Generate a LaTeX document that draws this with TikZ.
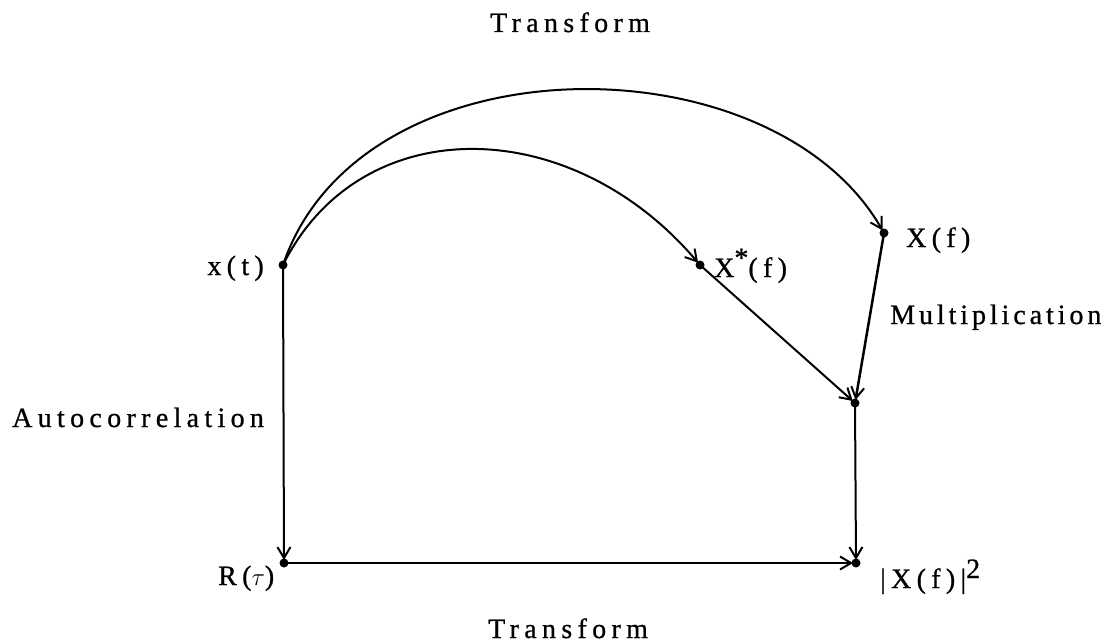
\documentclass[tikz,border=0pt]{standalone}
\usepackage{fontspec}
\setmainfont{Liberation Serif}[LetterSpace=19,FakeBold=0.8]
\newfontfamily\tightfont{Liberation Serif}[LetterSpace=14,FakeBold=0.8]
\usetikzlibrary{arrows.meta}
\begin{document}
\begin{tikzpicture}[x=1pt,y=-1pt,
  conn/.style={line width=2pt, -{Straight Barb[length=11pt,width=13pt,line width=2pt]}, shorten >=3pt},
  dot/.style={circle, fill=black, inner sep=0pt, minimum size=9pt},
  lbl/.style={font=\fontsize{28}{32}\selectfont, inner sep=0pt}]
\useasboundingbox (0,0) rectangle (1115,642);
\node[dot] (A) at (283,265) {};
\node[dot] (B) at (700,265) {};
\node[dot] (C) at (884,233) {};
\node[dot] (D) at (855,403) {};
\node[dot] (E) at (284,563) {};
\node[dot] (F) at (856,563) {};
\draw[conn] (A.center) .. controls (360,37) and (771,37) .. (C.center);
\draw[conn] (A.center) .. controls (360,110) and (570,112) .. (B.center);
\draw[conn] (B.center) -- (D.center);
\draw[conn,line width=2.5pt] (C.center) -- (D.center);
\draw[conn] (A.center) -- (E.center);
\draw[conn] (E.center) -- (F.center);
\draw[conn] (D.center) -- (F.center);
\node[lbl,anchor=base west] (t1) at (490,32) {Transform};
\node[lbl,anchor=base west] (t2) at (488,638) {Transform};
\node[lbl,anchor=base east] (xt) at (264,275) {x(t)};
\node[lbl,anchor=base west] (xs) at (714,277) {X\raisebox{10pt}{*}(f)};
\node[lbl,anchor=base west] (xf) at (906,247) {X(f)};
\node[lbl,anchor=base west,font=\fontsize{28}{32}\tightfont] (mu) at (890,324) {Multiplication};
\node[lbl,anchor=base west] (au) at (12,427) {Autocorrelation};
\node[lbl,anchor=base west] (rt) at (218,585) {R($\tau$)};
\node[lbl,anchor=base west] (x2) at (880,588) {|X(f)|\raisebox{10pt}{2}};
\end{tikzpicture}
\end{document}
